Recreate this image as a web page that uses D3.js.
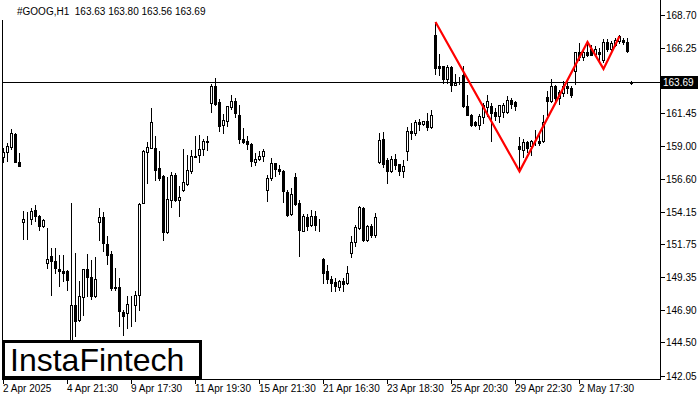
<!DOCTYPE html>
<html><head><meta charset="utf-8">
<script src="https://cdn.jsdelivr.net/npm/d3@7"></script>
<style>html,body{margin:0;padding:0;background:#fff;} svg{display:block;} text{font-family:"Liberation Sans",Arial,sans-serif;}</style>
</head><body>
<svg id="c" width="700" height="400"></svg>
<script>
const headerText = "#GOOG,H1  163.63 163.80 163.56 163.69";
const opens = [
158.22,158.53,158.96,159.91,157.85,153.40,153.60,153.62,154.30,153.86,
153.07,150.37,150.91,150.54,149.95,149.80,149.75,144.34,147.29,146.18,
147.86,149.93,149.34,147.90,153.40,153.77,151.79,151.06,148.60,148.60,
146.75,146.68,147.27,147.29,147.98,154.80,158.56,158.86,158.86,157.38,
156.76,152.66,155.04,156.89,154.99,155.73,156.22,157.13,158.19,158.31,
158.79,159.27,162.18,163.46,162.23,160.53,160.82,161.86,162.35,161.32,
159.52,159.35,159.18,157.83,158.05,158.24,155.73,156.64,157.75,157.33,
157.18,155.61,153.99,156.72,154.80,152.75,153.74,153.15,153.81,153.27,
150.66,149.75,149.19,148.94,148.57,149.01,148.89,151.08,151.89,152.95,
154.43,152.09,153.12,152.41,157.80,159.55,157.94,157.13,158.07,157.68,
157.13,158.61,160.08,159.97,160.78,160.63,160.82,160.38,167.22,164.88,
164.88,163.98,164.84,163.53,163.90,164.22,161.98,161.32,160.75,160.58,
161.15,161.86,161.93,161.52,161.19,161.52,161.52,162.42,162.23,158.98,
158.73,159.27,158.98,159.38,159.40,159.35,162.62,162.35,163.41,162.55,
162.92,163.41,163.29,164.51,165.95,165.55,165.95,166.17,165.82,165.92,
165.38,166.68,166.19,166.49,166.73,166.85,166.68,163.63];
const highs = [
158.88,159.25,160.28,159.99,158.51,154.23,154.16,154.45,154.67,153.90,
153.64,152.98,151.50,151.50,150.98,150.98,149.88,154.80,151.13,149.01,
149.95,151.06,150.61,150.81,154.43,154.13,152.33,151.23,150.00,149.26,
146.87,147.96,147.90,148.27,154.82,158.73,159.27,161.81,159.72,158.61,
156.89,156.72,157.06,157.01,156.02,158.81,158.36,158.73,159.77,159.84,
159.55,159.77,163.61,164.03,162.48,161.39,161.98,162.79,162.55,162.06,
160.34,159.72,159.20,158.49,158.66,158.81,156.89,158.12,157.77,157.63,
157.20,155.73,155.91,157.01,155.04,154.01,154.01,154.30,154.18,153.62,
150.74,150.19,149.38,149.26,149.14,149.26,150.12,152.33,153.20,154.55,
154.50,153.20,153.25,154.06,159.97,160.01,158.12,158.24,158.42,157.70,
158.00,160.38,160.70,160.95,161.02,160.87,161.44,161.69,168.16,165.80,
164.90,165.01,164.88,164.32,164.07,164.88,162.79,161.34,160.87,161.37,
162.18,162.74,162.18,161.81,162.06,162.18,162.72,162.55,162.30,159.64,
159.55,159.40,159.47,160.21,159.79,161.32,163.09,163.98,163.48,163.16,
163.78,163.78,163.41,165.97,166.61,166.24,166.68,166.43,166.36,166.24,
166.93,166.93,166.73,166.98,167.22,166.98,166.98,163.80];
const lows = [
157.85,157.92,158.81,157.82,157.52,152.16,152.16,153.27,153.44,152.83,
153.05,150.02,148.03,149.65,148.64,149.01,148.40,143.50,144.95,146.06,
146.55,147.90,147.71,147.88,152.09,151.23,150.32,148.40,148.40,145.74,
145.03,145.57,145.69,146.06,146.92,154.78,156.28,158.84,156.52,156.52,
152.09,152.58,154.47,154.97,153.81,155.65,156.15,157.01,158.17,157.80,
158.36,158.73,161.49,162.06,160.14,159.97,160.45,161.76,161.12,159.23,
159.23,158.81,157.55,157.57,158.00,157.87,154.92,156.52,156.76,156.94,
154.84,153.81,153.94,154.67,150.86,152.70,152.83,153.07,152.78,152.70,
148.89,148.89,148.32,148.32,148.40,148.32,148.82,150.78,151.60,152.90,
151.96,151.96,152.26,152.26,157.75,157.43,156.28,157.09,157.33,156.84,
156.69,158.00,159.55,159.79,160.21,160.53,160.21,160.36,164.32,164.27,
163.66,163.66,163.09,163.48,163.61,161.86,161.27,160.45,160.45,160.28,
160.70,161.19,159.35,160.95,160.78,161.12,161.44,161.81,161.69,157.13,
158.17,158.56,158.36,159.05,159.10,159.30,161.32,162.26,162.18,162.11,
162.67,162.92,162.59,163.61,165.38,165.38,165.62,165.70,165.62,165.38,
165.21,166.04,165.95,166.36,166.61,166.56,165.92,163.56];
const closes = [
158.59,158.98,159.99,157.85,157.55,153.64,153.64,154.18,153.81,153.07,
153.57,150.66,150.49,150.00,149.75,149.63,149.09,147.29,146.06,147.96,
149.93,149.34,147.90,149.21,153.77,151.85,150.98,148.52,148.55,146.80,
146.43,147.37,147.29,148.03,154.75,158.61,158.93,160.78,157.21,156.64,
152.63,155.09,156.89,154.99,155.21,156.35,157.26,158.29,158.29,158.81,
159.35,159.40,163.41,162.13,160.45,160.95,161.93,162.35,161.44,159.52,
159.27,159.15,157.87,158.07,158.29,158.61,156.64,157.75,157.31,157.13,
155.65,153.94,155.49,154.75,152.78,153.81,153.07,153.81,153.15,153.22,
149.63,149.19,148.89,148.64,149.01,148.82,149.63,151.92,153.03,154.47,
152.04,153.12,152.41,153.79,159.47,157.70,157.13,158.05,157.63,157.13,
157.55,160.14,159.97,160.78,160.63,160.82,160.38,161.32,164.77,164.77,
163.98,164.84,163.53,163.66,163.88,161.93,161.32,160.58,160.53,161.19,
162.00,162.35,161.44,161.19,162.00,162.00,162.42,162.11,161.93,158.79,
159.27,158.86,159.40,159.35,159.23,160.78,162.35,163.41,162.55,162.96,
163.41,163.29,162.74,165.95,165.55,165.95,165.75,165.75,166.17,165.80,
166.68,166.17,166.61,166.85,167.10,166.68,166.04,163.69];
const timeLabels = ["2 Apr 2025","4 Apr 21:30","9 Apr 17:30","11 Apr 19:30","15 Apr 21:30","21 Apr 16:30","23 Apr 18:30","25 Apr 20:30","29 Apr 22:30","2 May 17:30"];
const timeLabelIdx = [0,16,32,48,64,80,96,112,128,144];
const priceTicks = [168.70,166.25,163.80,161.45,159.00,156.60,154.15,151.75,149.35,146.90,144.50,142.05];
const lastPrice = 163.69;
const patternIdx = [108,129,146,150,154];
const patternPrice = [168.16,157.13,166.68,164.69,167.10];
const logoText = "InstaFintech";

const svg = d3.select("#c");
const plotL = 2, plotR = 660, plotB = 379;
const x = d3.scaleLinear().domain([0, 157]).range([3, 631]);
const y = d3.scaleLinear().domain([142.05, 168.70]).range([375.6, 14.6]);
const px = v => Math.round(x(v));
const py = v => Math.round(y(v));

svg.append("rect").attr("width",700).attr("height",400).attr("fill","#fff");

// candles
const data = opens.map((o,i)=>({i,o,h:highs[i],l:lows[i],c:closes[i]}));
const g = svg.append("g").attr("shape-rendering","crispEdges");
g.selectAll("line.wick").data(data).join("line")
  .attr("x1",d=>px(d.i)+0.5).attr("x2",d=>px(d.i)+0.5)
  .attr("y1",d=>py(d.h)).attr("y2",d=>py(d.l)+1)
  .attr("stroke","#000").attr("stroke-width",1);
g.selectAll("rect.body").data(data).join("rect")
  .attr("x",d=>px(d.i)-0.5)
  .attr("y",d=>py(Math.max(d.o,d.c))+0.5)
  .attr("width",2)
  .attr("height",d=>py(Math.min(d.o,d.c))-py(Math.max(d.o,d.c)))
  .attr("fill",d=>d.c>=d.o?"#fff":"#000")
  .attr("stroke","#000").attr("stroke-width",1);

// last price line
const ly = py(lastPrice);
svg.append("line").attr("x1",plotL).attr("x2",plotR).attr("y1",ly+0.5).attr("y2",ly+0.5)
  .attr("stroke","#000").attr("stroke-width",1).attr("shape-rendering","crispEdges");

// pattern line
svg.append("path")
  .datum(patternIdx.map((d,k)=>[d,patternPrice[k]]))
  .attr("d", d3.line().x(d=>x(d[0])+0.5).y(d=>y(d[1])))
  .attr("fill","none").attr("stroke","#ff0000").attr("stroke-width",2.2).attr("stroke-linejoin","miter");

// frame
const fr = svg.append("g").attr("shape-rendering","crispEdges").attr("stroke","#000").attr("stroke-width",1);
fr.append("line").attr("x1",plotL+0.5).attr("x2",plotL+0.5).attr("y1",20).attr("y2",plotB+1);
fr.append("line").attr("x1",plotR+0.5).attr("x2",plotR+0.5).attr("y1",0).attr("y2",plotB+1);
fr.append("line").attr("x1",plotL).attr("x2",plotR+1).attr("y1",plotB+0.5).attr("y2",plotB+0.5);

// y axis (labels hidden under the last-price box are not drawn, as in the reference)
priceTicks.forEach(v=>{
  const yy = py(v);
  fr.append("line").attr("x1",plotR).attr("x2",plotR+5).attr("y1",yy+0.5).attr("y2",yy+0.5);
  if (Math.abs(yy - ly) >= 10) {
    svg.append("text").attr("x",666).attr("y",yy+4).attr("font-size",10).attr("fill","#000").text(v.toFixed(2));
  }
});
// last price box
svg.append("rect").attr("x",661).attr("y",ly-6).attr("width",37).attr("height",13).attr("fill","#000");
svg.append("text").attr("x",663).attr("y",ly+4).attr("font-size",10).attr("fill","#fff").text(lastPrice.toFixed(2));

// x axis
timeLabelIdx.forEach((idx,k)=>{
  const xx = px(idx);
  fr.append("line").attr("x1",xx+0.5).attr("x2",xx+0.5).attr("y1",plotB).attr("y2",plotB+5);
  svg.append("text").attr("x",xx).attr("y",392).attr("font-size",10).attr("fill","#000").text(timeLabels[k]);
});

// header
svg.append("text").attr("x",17).attr("y",15).attr("font-size",10).attr("fill","#000")
  .style("white-space","pre").text(headerText);

// logo
svg.append("rect").attr("x",3.5).attr("y",341.5).attr("width",197).attr("height",36)
  .attr("fill","#fff").attr("stroke","#000").attr("stroke-width",3);
svg.append("text").attr("x",10).attr("y",370.5).attr("font-size",32)
  .attr("font-family","Roboto").attr("fill","#000").text(logoText);
</script>
</body></html>
